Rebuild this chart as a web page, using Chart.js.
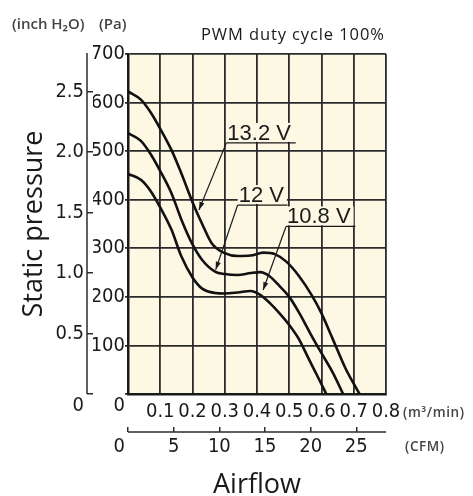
<!DOCTYPE html>
<html>
<head>
<meta charset="utf-8">
<script src="https://cdn.jsdelivr.net/npm/chart.js@4.4.1/dist/chart.umd.min.js"></script>
<style>html,body{margin:0;padding:0;background:#fff}canvas{display:block}</style>
</head>
<body>
<canvas id="c" width="473" height="496"></canvas>
<script>
"use strict";
// Fan P-Q curve: static pressure (Pa / inch H2O) vs airflow (m3/min / CFM), three supply voltages.

const seriesNames = ["13.2 V", "12 V", "10.8 V"];

const flow132 = [0, 0.04, 0.07, 0.10, 0.135, 0.165, 0.20, 0.23, 0.26, 0.30, 0.34, 0.38, 0.42, 0.455, 0.49, 0.53, 0.57, 0.60, 0.635, 0.675, 0.718];
const pres132 = [623, 606, 580, 546, 502, 455, 395, 350, 310, 290, 284, 285, 291, 288, 273, 243, 203, 166, 113, 52, 0];

const flow12 = [0, 0.04, 0.07, 0.10, 0.135, 0.165, 0.20, 0.23, 0.27, 0.30, 0.34, 0.38, 0.41, 0.44, 0.47, 0.50, 0.53, 0.565, 0.60, 0.635, 0.667];
const pres12 = [537, 521, 494, 459, 413, 360, 308, 276, 252, 247, 245, 249, 251, 242, 222, 200, 168, 125, 84, 44, 0];

const flow108 = [0, 0.04, 0.07, 0.10, 0.135, 0.165, 0.20, 0.23, 0.27, 0.30, 0.34, 0.38, 0.41, 0.44, 0.47, 0.50, 0.53, 0.557, 0.588, 0.615];
const pres108 = [453, 441, 418, 384, 338, 284, 240, 217, 208, 207, 209, 212, 204, 187, 166, 142, 113, 77, 36, 0];

// tick labels
const paTicks = [0, 100, 200, 300, 400, 500, 600, 700];
const inchTicks = [0, 0.5, 1.0, 1.5, 2.0, 2.5];
const flowTicks = [0, 0.1, 0.2, 0.3, 0.4, 0.5, 0.6, 0.7, 0.8];
const cfmTicks = [0, 5, 10, 15, 20, 25];

// callout labels: underline from (left..right, y) and arrow to the curve (tipX, tipY), data units
const calloutLeft = [0.305, 0.34, 0.49];
const calloutRight = [0.52, 0.495, 0.705];
const calloutY = [517, 389, 345];
const calloutTipX = [0.22, 0.272, 0.419];
const calloutTipY = [379, 256, 214];

const PA_PER_INCH = 249.089;
const M3MIN_PER_CFM = 0.0283168;

const CREAM = "#fcf8e4", GRID = "#2b2b2b", INK = "#1a1a1a";
const NARROW = "'Liberation Sans Narrow','DejaVu Sans Condensed',sans-serif";
const SANS = "'Open Sans','Noto Sans',sans-serif";
const tickFont = { family: NARROW, size: 20, lineHeight: 1.2 };

const pairs = (xs, ys) => xs.map((x, i) => ({ x, y: ys[i] }));
const fixTicks = (arr) => (s) => { s.ticks = arr.map(v => ({ value: v })); };
const line = (xs, ys) => ({ data: pairs(xs, ys), borderColor: "#111", borderWidth: 2.6, pointRadius: 0, fill: false, cubicInterpolationMode: "monotone" });

const deco = {
  id: "deco",
  beforeDraw(chart) {
    const { ctx, chartArea: a } = chart;
    ctx.save();
    ctx.fillStyle = "#fff"; ctx.fillRect(0, 0, chart.width, chart.height);
    ctx.fillStyle = CREAM; ctx.fillRect(a.left, a.top, a.right - a.left, a.bottom - a.top);
    ctx.restore();
  },
  afterDatasetsDraw(chart) {
    const { ctx } = chart, x = chart.scales.x, y = chart.scales.y;
    ctx.save();
    ctx.font = "22px 'Liberation Sans',Arial,sans-serif";
    seriesNames.forEach((name, i) => {
      const xl = x.getPixelForValue(calloutLeft[i]), xr = x.getPixelForValue(calloutRight[i]);
      const yu = y.getPixelForValue(calloutY[i]);
      const tx = x.getPixelForValue(calloutTipX[i]), ty = y.getPixelForValue(calloutTipY[i]);
      const w = ctx.measureText(name).width;
      ctx.fillStyle = CREAM; ctx.fillRect(xl, yu - 20, w + 4, 19);
      ctx.fillStyle = INK; ctx.textAlign = "left"; ctx.textBaseline = "alphabetic";
      ctx.fillText(name, xl + 1, yu - 3);
      ctx.strokeStyle = INK; ctx.lineWidth = 1.2;
      ctx.beginPath(); ctx.moveTo(xl, yu); ctx.lineTo(xr, yu); ctx.stroke();
      ctx.beginPath(); ctx.moveTo(xl, yu); ctx.lineTo(tx, ty); ctx.stroke();
      const ang = Math.atan2(ty - yu, tx - xl), L = 8, H = 2.6;
      ctx.beginPath();
      ctx.moveTo(tx, ty);
      ctx.lineTo(tx - L * Math.cos(ang) + H * Math.sin(ang), ty - L * Math.sin(ang) - H * Math.cos(ang));
      ctx.lineTo(tx - L * Math.cos(ang) - H * Math.sin(ang), ty - L * Math.sin(ang) + H * Math.cos(ang));
      ctx.closePath(); ctx.fillStyle = INK; ctx.fill();
    });
    ctx.restore();
  },
  afterDraw(chart) {
    const { ctx, chartArea: a } = chart, yi = chart.scales.yIn, xc = chart.scales.xCfm, y = chart.scales.y;
    ctx.save();
    ctx.strokeStyle = GRID; ctx.lineWidth = 1.5;
    // secondary axis lines (tick marks come from the scales)
    const ax = yi.right - 6;
    ctx.beginPath(); ctx.moveTo(ax, a.top - 1); ctx.lineTo(ax, a.bottom); ctx.stroke();
    const ay = xc.top + 5;
    ctx.beginPath(); ctx.moveTo(a.left, ay); ctx.lineTo(a.right, ay); ctx.stroke();
    ctx.fillStyle = INK;
    ctx.font = "20px " + NARROW; ctx.textAlign = "right"; ctx.textBaseline = "middle";
    ctx.fillText("0", y.right - 3, ay + 3 + 12);
    ctx.fillStyle = "#444"; ctx.textAlign = "left";
    ctx.font = "600 15px " + SANS;
    ctx.fillText("(inch H\u2082O)", 12, 25);
    ctx.fillText("(Pa)", 99, 25);
    ctx.font = "600 13.5px " + SANS;
    ctx.letterSpacing = "0.6px";
    ctx.fillText("(m\u00B3/min)", 403, 413);
    ctx.fillText("(CFM)", 405, 447);
    ctx.fillStyle = INK; ctx.font = "16.5px " + SANS;
    ctx.letterSpacing = "0.9px";
    ctx.fillText("PWM duty cycle 100%", 201, 35);
    ctx.restore();
  }
};

new Chart(document.getElementById("c"), {
  type: "line",
  data: { datasets: [line(flow132, pres132), line(flow12, pres12), line(flow108, pres108)] },
  options: {
    responsive: false, animation: false, events: [],
    layout: { padding: { left: 0, top: 54, right: 87, bottom: 0 } },
    plugins: { legend: { display: false }, tooltip: { enabled: false } },
    scales: {
      x: {
        type: "linear", position: "bottom", weight: 0, min: 0, max: 0.8,
        afterBuildTicks: fixTicks(flowTicks), afterFit: s => { s.height = 33; },
        grid: { color: GRID, lineWidth: 1.8, drawTicks: false },
        border: { color: INK, width: 2.5 },
        ticks: { font: tickFont, color: INK, padding: 6, autoSkip: false, maxRotation: 0,
                 callback: v => v === 0 ? "" : v.toFixed(1) }
      },
      xCfm: {
        type: "linear", position: "bottom", weight: 1, min: 0, max: 0.8 / M3MIN_PER_CFM,
        afterBuildTicks: fixTicks(cfmTicks), afterFit: s => { s.height = 69; },
        grid: { drawOnChartArea: false, color: GRID, lineWidth: 1.5, tickLength: 5 },
        border: { display: false },
        ticks: { font: tickFont, color: INK, padding: 3, autoSkip: false, maxRotation: 0,
                 callback: v => v === 0 ? "" : String(v) },
        title: { display: true, text: "Airflow", color: INK, font: { family: SANS, size: 27, lineHeight: 1 }, padding: { top: 0, bottom: -3 } }
      },
      y: {
        type: "linear", position: "left", weight: 0, min: 0, max: 700,
        afterBuildTicks: fixTicks(paTicks), afterFit: s => { s.width = 35; },
        grid: { color: GRID, lineWidth: 1.8, tickLength: 3 },
        border: { color: INK, width: 2.5 },
        ticks: { font: tickFont, color: INK, padding: 0, autoSkip: false,
                 callback: v => v === 0 ? ["", "0"] : String(v) }
      },
      yIn: {
        type: "linear", position: "left", weight: 1, min: 0, max: 700 / PA_PER_INCH,
        afterBuildTicks: fixTicks(inchTicks), afterFit: s => { s.width = 93; },
        grid: { drawOnChartArea: false, color: GRID, lineWidth: 1.5, tickLength: 6 },
        border: { display: false },
        ticks: { font: tickFont, color: INK, padding: 3, autoSkip: false,
                 callback: v => v === 0 ? ["", "0"] : v.toFixed(1) },
        title: { display: true, text: "Static pressure", color: INK, font: { family: SANS, size: 27, lineHeight: 1.2 }, padding: { top: 18, bottom: 0 } }
      }
    }
  },
  plugins: [deco]
});
</script>
</body>
</html>
